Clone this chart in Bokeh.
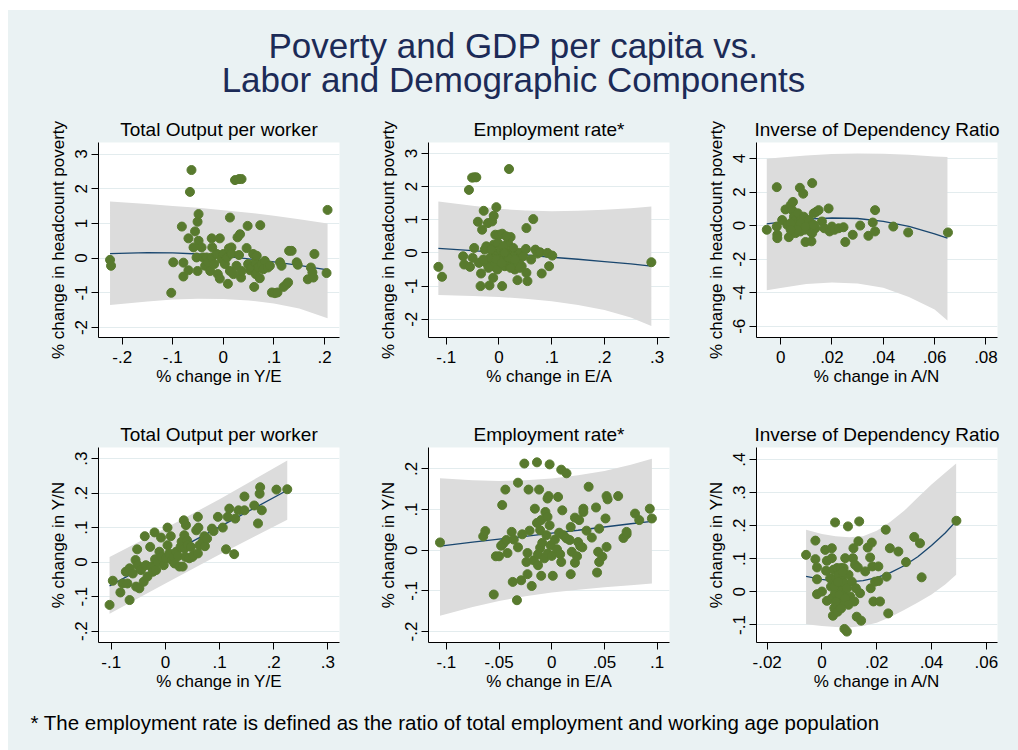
from bokeh.plotting import figure
from bokeh.layouts import column, row
from bokeh.models import Range1d, FixedTicker, CustomJSTickFormatter, Spacer
from bokeh.core.properties import value
from bokeh.embed import file_html
from bokeh.resources import INLINE

FONT = "Liberation Sans"
BG = "#EAF2F3"
GREEN = "#587A2E"
NAVY = "#1A476F"
BAND = "#DCDCDC"

title_lines = ["Poverty and GDP per capita vs.", "Labor and Demographic Components"]
footnote = "* The employment rate is defined as the ratio of total employment and working age population"

panel_titles = ["Total Output per worker", "Employment rate*", "Inverse of Dependency Ratio"]
x_labels = ["% change in Y/E", "% change in E/A", "% change in A/N"]
y_labels_top = "% change in headcount poverty"
y_labels_bottom = "% change in Y/N"

# ---------- Panel 1: poverty vs Y/E ----------
p1_pts = [(-0.224,-0.05),(-0.222,-0.22),(-0.099,-0.12),(-0.103,-1.0),(-0.082,0.91),(-0.079,-0.13),(-0.079,-0.53),(-0.069,-0.35),(-0.069,0.57),(-0.066,1.91),
          (-0.063,2.54),(-0.059,0.31),(-0.056,0.77),(-0.051,1.05),(-0.049,1.27),(-0.049,0.5),(-0.053,0.02),(-0.051,-0.37),(-0.043,0.31),(-0.040,0.02),
          (-0.036,-0.22),(-0.033,0.02),(-0.030,-0.12),(-0.026,-0.37),(-0.023,0.57),(-0.022,0.31),(-0.023,0.02),(-0.018,-0.17),(-0.013,0.12),(-0.011,-0.46),
          (-0.007,0.57),(-0.007,-0.59),(-0.003,-0.03),(0.0,0.12),(0.003,-0.17),(0.007,0.02),(0.009,-0.74),(0.013,1.17),(0.011,0.28),(0.016,0.31),
          (0.013,-0.37),(0.016,0.13),(0.020,-0.46),(0.023,2.25),(0.031,2.28),(0.036,2.28),(0.028,0.6),(0.033,0.69),(0.026,-0.22),(0.031,0.09),
          (0.035,-0.56),(0.036,-0.37),(0.046,0.29),(0.048,0.93),(0.049,-0.17),(0.053,-0.35),(0.056,-0.27),(0.059,0.12),(0.061,-0.83),(0.063,-0.12),
          (0.064,-0.46),(0.066,0.07),(0.069,-0.27),(0.072,-0.58),(0.073,0.95),(0.076,-0.17),(0.079,-0.32),(0.082,-0.08),(0.088,-0.27),(0.092,-0.22),
          (0.096,-0.99),(0.102,-1.01),(0.107,-0.99),(0.112,-0.12),(0.115,-0.22),(0.119,-0.83),(0.125,-0.75),(0.128,-0.70),(0.130,0.21),(0.135,0.21),
          (0.145,-0.12),(0.147,-0.19),(0.167,-0.61),(0.173,-0.27),(0.176,-0.41),(0.178,-0.56),(0.180,0.12),(0.204,-0.43),(0.206,1.39)]
p1_fx = [-0.224, -0.15, -0.1, -0.05, 0.0, 0.05, 0.1, 0.15, 0.206]
p1_fit = [0.13, 0.16, 0.15, 0.12, 0.06, -0.02, -0.11, -0.21, -0.34]
p1_hi = [1.63, 1.56, 1.50, 1.45, 1.38, 1.31, 1.22, 1.12, 1.0]
p1_lo = [-1.35, -1.25, -1.19, -1.17, -1.18, -1.22, -1.31, -1.45, -1.73]
p1_xticks = [-0.2, -0.1, 0, 0.1, 0.2]
p1_yticks = [-2, -1, 0, 1, 2, 3]

# ---------- Panel 2: poverty vs E/A ----------
p2_pts = [(-0.115,-0.42),(-0.108,-0.72),(-0.068,-0.10),(-0.066,-0.35),(-0.057,1.90),(-0.055,-0.42),(-0.051,2.27),(-0.047,2.28),(-0.043,2.28),(-0.050,-0.15),
          (-0.047,0.15),(-0.040,0.94),(-0.038,-0.30),(-0.034,-0.62),(-0.035,-1.0),(-0.032,0.70),(-0.029,1.27),(-0.027,0.10),(-0.024,0.20),(-0.024,-0.30),
          (-0.021,0.90),(-0.018,-0.98),(-0.017,-0.15),(-0.013,0.95),(-0.010,1.12),(-0.011,-0.75),(-0.010,-0.40),(-0.010,0.25),(-0.007,0.55),(-0.005,1.38),
          (-0.005,-0.02),(-0.003,-0.50),(-0.002,0.30),(0.0,0.55),(0.001,-0.25),(0.003,0.10),(0.006,-1.0),(0.006,0.58),(0.008,-0.10),(0.011,-0.40),
          (0.012,0.05),(0.014,-0.25),(0.017,0.30),(0.019,2.53),(0.020,-0.05),(0.022,0.48),(0.024,-0.35),(0.025,-0.20),(0.027,0.15),(0.030,-0.50),
          (0.033,-0.08),(0.035,-0.82),(0.038,-0.30),(0.039,0.0),(0.043,-0.40),(0.046,-0.10),(0.051,0.12),(0.052,0.75),(0.052,-0.60),(0.054,-0.85),
          (0.061,-0.20),(0.065,1.02),(0.069,0.10),(0.073,-0.02),(0.078,0.02),(0.081,-0.62),(0.092,0.0),(0.095,-0.40),(0.101,-0.08),(0.289,-0.28),
          (-0.015,0.10),(0.008,0.20),(0.014,0.50),(0.033,-0.30),(-0.005,-0.20),(0.027,-0.10),(0.005,-0.30),(0.018,-0.15),(0.030,-0.20),(-0.020,-0.45),
          (0.040,-0.45),(0.010,0.0),(-0.030,-0.20),(0.022,-0.45)]
p2_fx = [-0.115, -0.05, 0.0, 0.05, 0.1, 0.15, 0.2, 0.25, 0.289]
p2_fit = [0.14, 0.07, 0.01, -0.06, -0.13, -0.19, -0.26, -0.33, -0.40]
p2_hi = [1.55, 1.42, 1.33, 1.28, 1.26, 1.27, 1.30, 1.35, 1.40]
p2_lo = [-1.27, -1.30, -1.33, -1.38, -1.46, -1.57, -1.72, -1.95, -2.20]
p2_xticks = [-0.1, 0, 0.1, 0.2, 0.3]
p2_yticks = [-2, -1, 0, 1, 2, 3]

# ---------- Panel 3: poverty vs A/N ----------
p3_pts = [(-0.0054,-0.25),(-0.0015,2.29),(-0.0015,-0.06),(-0.0013,-0.55),(-0.0013,-0.75),(0.0006,0.33),(0.0019,0.96),(0.0026,0.04),(0.0032,-0.69),(0.0039,1.22),
          (0.0045,0.92),(0.0048,1.41),(0.0052,0.53),(0.0052,-0.16),(0.0058,0.33),(0.0058,-0.45),(0.0065,0.14),(0.0067,0.73),(0.0071,-0.06),(0.0075,2.25),
          (0.0077,-0.35),(0.0080,0.33),(0.0084,0.04),(0.0088,1.90),(0.0090,0.53),(0.0093,-0.25),(0.0097,-0.98),(0.0101,0.18),(0.0103,-0.06),(0.0110,0.33),
          (0.0116,-0.35),(0.0120,-0.94),(0.0123,2.53),(0.0123,0.04),(0.0129,0.73),(0.0135,-0.16),(0.0139,0.82),(0.0148,0.92),(0.0161,0.24),(0.0170,-0.16),
          (0.0187,1.02),(0.0191,-0.35),(0.0200,-0.06),(0.0210,-0.25),(0.0226,-0.16),(0.0245,-0.10),(0.0252,-0.98),(0.0281,-0.55),(0.0310,0.0),(0.0342,-0.61),
          (0.0359,0.18),(0.0368,0.92),(0.0368,-0.35),(0.0439,-0.06),(0.0497,-0.41),(0.0652,-0.41),(0.0039,0.14),(0.0077,0.14),(0.0065,-0.25),(0.0039,-0.25),
          (0.0097,-0.06),(0.0123,-0.45),(0.0129,0.04)]
p3_fx = [-0.0054, 0.0, 0.01, 0.02, 0.03, 0.04, 0.05, 0.06, 0.065]
p3_fit = [0.10, 0.20, 0.38, 0.45, 0.42, 0.25, -0.05, -0.50, -0.75]
p3_hi = [3.98, 4.05, 4.18, 4.27, 4.30, 4.28, 4.22, 4.12, 4.08]
p3_lo = [-3.85, -3.72, -3.48, -3.40, -3.45, -3.70, -4.25, -5.00, -5.65]
p3_xticks = [0, 0.02, 0.04, 0.06, 0.08]
p3_yticks = [-6, -4, -2, 0, 2, 4]

# ---------- Panel 4: Y/N vs Y/E ----------
p4_pts = [(-0.103,-0.124),(-0.097,-0.054),(-0.083,-0.088),(-0.079,-0.062),(-0.073,-0.028),(-0.070,-0.062),(-0.066,-0.110),(-0.066,-0.018),(-0.060,-0.033),(-0.055,0.006),
          (-0.054,-0.071),(-0.052,0.037),(-0.051,-0.009),(-0.048,-0.076),(-0.045,-0.023),(-0.040,-0.057),(-0.038,0.075),(-0.036,-0.009),(-0.033,-0.042),(-0.028,0.044),
          (-0.026,-0.013),(-0.023,-0.028),(-0.020,0.086),(-0.019,0.008),(-0.017,-0.023),(-0.014,0.001),(-0.011,0.030),(-0.008,0.071),(-0.007,0.015),(-0.003,-0.009),
          (0.001,0.011),(0.004,0.100),(0.004,0.049),(0.007,0.025),(0.010,0.075),(0.012,0.006),(0.015,0.015),(0.017,-0.004),(0.020,0.030),(0.023,0.017),
          (0.026,-0.013),(0.028,0.044),(0.030,0.059),(0.032,-0.013),(0.034,0.121),(0.035,0.078),(0.035,0.039),(0.037,0.015),(0.038,0.107),(0.040,0.063),
          (0.041,0.049),(0.044,0.011),(0.047,0.044),(0.050,0.015),(0.052,0.020),(0.057,0.092),(0.060,0.131),(0.061,0.100),(0.060,0.025),(0.063,0.049),
          (0.069,0.059),(0.072,0.075),(0.073,0.046),(0.077,0.068),(0.086,0.097),(0.089,0.090),(0.097,0.131),(0.106,0.100),(0.112,0.037),(0.115,0.131),
          (0.118,0.155),(0.127,0.023),(0.129,0.126),(0.135,0.150),(0.146,0.190),(0.146,0.150),(0.164,0.164),(0.171,0.112),(0.174,0.198),(0.175,0.217),
          (0.178,0.150),(0.205,0.210),(0.225,0.211)]
p4_fx = [-0.103, 0.0, 0.1, 0.225]
p4_fit = [-0.069, 0.018, 0.102, 0.208]
p4_hi = [0.015, 0.098, 0.182, 0.294]
p4_lo = [-0.150, -0.062, 0.022, 0.123]
p4_xticks = [-0.1, 0, 0.1, 0.2, 0.3]
p4_yticks = [-0.2, -0.1, 0, 0.1, 0.2, 0.3]

# ---------- Panel 5: Y/N vs E/A ----------
p5_pts = [(-0.106,0.019),(-0.065,0.034),(-0.063,0.047),(-0.055,-0.109),(-0.053,-0.015),(-0.050,-0.015),(-0.048,0.011),(-0.047,0.111),(-0.046,0.016),(-0.044,0.149),
          (-0.043,0.025),(-0.042,-0.007),(-0.038,0.045),(-0.037,-0.078),(-0.036,0.026),(-0.033,-0.123),(-0.032,0.166),(-0.032,0.007),(-0.029,-0.074),(-0.028,0.039),
          (-0.026,0.213),(-0.024,-0.029),(-0.023,-0.059),(-0.023,-0.007),(-0.022,0.149),(-0.021,0.048),(-0.019,-0.088),(-0.017,-0.025),(-0.016,0.102),(-0.014,0.216),
          (-0.014,0.067),(-0.013,-0.010),(-0.013,-0.037),(-0.012,0.149),(-0.011,0.049),(-0.011,0.006),(-0.010,0.074),(-0.010,-0.063),(-0.009,0.018),(-0.007,-0.020),
          (-0.006,0.094),(-0.005,0.037),(-0.004,0.082),(-0.004,0.127),(-0.004,-0.008),(-0.003,0.133),(-0.002,0.211),(-0.002,0.061),(-0.001,0.012),(0.0,-0.014),
          (0.001,-0.063),(0.003,0.026),(0.005,0.002),(0.006,0.131),(0.007,0.043),(0.008,-0.010),(0.009,0.198),(0.009,-0.029),(0.010,0.098),(0.011,0.037),
          (0.014,0.189),(0.014,0.029),(0.017,0.025),(0.018,0.057),(0.018,-0.059),(0.019,-0.004),(0.022,0.080),(0.022,-0.031),(0.024,-0.015),(0.025,0.020),
          (0.026,0.074),(0.027,0.010),(0.029,0.007),(0.030,0.102),(0.030,0.094),(0.033,0.048),(0.035,0.156),(0.038,0.031),(0.042,0.105),(0.043,-0.055),
          (0.044,-0.004),(0.045,-0.029),(0.045,0.053),(0.048,-0.016),(0.051,0.078),(0.052,0.133),(0.052,0.008),(0.053,0.125),(0.063,0.133),(0.068,0.030),
          (0.071,0.039),(0.071,0.045),(0.079,0.090),(0.083,0.074),(0.093,0.102),(0.095,0.078)]
p5_fx = [-0.106, -0.075, -0.05, -0.025, 0.0, 0.025, 0.05, 0.075, 0.095]
p5_fit = [0.010, 0.020, 0.027, 0.034, 0.042, 0.049, 0.057, 0.065, 0.071]
p5_hi = [0.177, 0.172, 0.170, 0.172, 0.176, 0.184, 0.195, 0.210, 0.225]
p5_lo = [-0.161, -0.140, -0.125, -0.113, -0.104, -0.097, -0.091, -0.086, -0.082]
p5_xticks = [-0.1, -0.05, 0, 0.05, 0.1]
p5_yticks = [-0.2, -0.1, 0, 0.1, 0.2]

# ---------- Panel 6: Y/N vs A/N ----------
p6_pts = [(-0.0058,0.112),(-0.0024,0.155),(-0.0024,0.099),(-0.0018,0.074),(-0.0018,0.038),(-0.0018,-0.007),(0.0,0.001),(0.0012,0.127),(0.0015,0.064),(0.0018,0.094),
          (0.0018,-0.027),(0.0030,0.041),(0.0033,0.016),(0.0036,0.132),(0.0036,0.102),(0.0036,-0.019),(0.0040,-0.072),(0.0042,0.067),(0.0045,-0.049),(0.0048,0.210),
          (0.0048,-0.004),(0.0052,0.041),(0.0055,0.072),(0.0055,0.021),(0.0057,-0.060),(0.0061,0.052),(0.0061,-0.019),(0.0064,0.011),(0.0067,-0.039),(0.0069,0.072),
          (0.0073,0.036),(0.0076,-0.004),(0.0079,0.072),(0.0081,0.026),(0.0085,0.102),(0.0082,-0.112),(0.0091,-0.120),(0.0091,0.011),(0.0095,0.198),(0.0097,0.052),
          (0.0103,-0.014),(0.0109,0.031),(0.0113,0.102),(0.0115,0.132),(0.0118,-0.029),(0.0121,0.082),(0.0124,0.011),(0.0127,-0.075),(0.0131,0.074),(0.0133,0.153),
          (0.0136,0.213),(0.0139,-0.004),(0.0143,-0.087),(0.0158,0.062),(0.0167,0.134),(0.0176,0.104),(0.0178,0.011),(0.0182,0.149),(0.0184,0.077),(0.0188,-0.029),
          (0.0194,0.031),(0.0206,0.077),(0.0206,0.033),(0.0212,-0.029),(0.0233,0.188),(0.0236,0.046),(0.0242,-0.065),(0.0248,0.132),(0.0279,0.122),(0.0307,0.090),
          (0.0337,0.166),(0.0358,0.147),(0.0364,0.044),(0.0491,0.215),(0.0045,0.016),(0.0064,-0.009),(0.0085,-0.019),(0.0097,-0.039),(0.0058,0.030),(0.0075,0.060),
          (0.0050,-0.030),(0.0070,-0.050)]
p6_fx = [-0.0058, 0.0, 0.005, 0.01, 0.015, 0.02, 0.025, 0.03, 0.035, 0.04, 0.045, 0.049]
p6_fit = [0.047, 0.038, 0.032, 0.030, 0.034, 0.043, 0.058, 0.079, 0.106, 0.140, 0.178, 0.214]
p6_hi = [0.188, 0.175, 0.168, 0.165, 0.168, 0.185, 0.212, 0.245, 0.285, 0.325, 0.360, 0.388]
p6_lo = [-0.098, -0.103, -0.106, -0.108, -0.103, -0.093, -0.076, -0.055, -0.032, -0.008, 0.022, 0.052]
p6_xticks = [-0.02, 0, 0.02, 0.04, 0.06]
p6_yticks = [-0.1, 0, 0.1, 0.2, 0.3, 0.4]

FMT = CustomJSTickFormatter(code="""
    let s = (Math.round(tick*1000)/1000).toString();
    return s.replace('0.', '.');
""")


def panel(title, xlab, ylab, xr, yr, xt, yt, pts, fx, fit, hi, lo, w, h, bl, br, bt, bb):
    p = figure(width=w, height=h, x_range=Range1d(*xr), y_range=Range1d(*yr),
               output_backend="svg", toolbar_location=None, title=title,
               min_border_left=bl, min_border_right=br, min_border_top=bt, min_border_bottom=bb)
    p.border_fill_color = BG
    p.background_fill_color = "white"
    p.outline_line_color = None
    p.title.align = "center"
    p.title.text_font = FONT
    p.title.text_font_size = "19px"
    p.title.text_font_style = "normal"
    p.title.text_color = "black"
    p.title.standoff = 5
    for ax, ticks in ((p.xaxis[0], xt), (p.yaxis[0], yt)):
        ax.ticker = FixedTicker(ticks=ticks)
        ax.formatter = FMT
        ax.major_tick_out = 7
        ax.major_tick_in = 0
        ax.minor_tick_line_color = None
        ax.axis_line_color = "black"
        ax.major_tick_line_color = "black"
        ax.major_label_text_font = FONT
        ax.major_label_text_font_size = "17px"
        ax.major_label_text_color = "black"
        ax.axis_label_text_font = FONT
        ax.axis_label_text_font_size = "17px"
        ax.axis_label_text_font_style = "normal"
        ax.axis_label_text_color = "black"
    p.xaxis.axis_label = xlab
    p.yaxis.axis_label = ylab
    p.yaxis.major_label_orientation = "vertical"
    p.xaxis.major_label_standoff = 6
    p.xaxis.axis_label_standoff = 1
    p.yaxis.major_label_standoff = 4
    p.yaxis.axis_label_standoff = 5
    p.xgrid.visible = False
    p.ygrid.grid_line_color = "#E3ECEE"
    p.ygrid.grid_line_width = 1
    px = [a for a, b in pts]
    py = [b for a, b in pts]
    p.varea(x=fx, y1=lo, y2=hi, fill_color=BAND, fill_alpha=1.0)
    p.line(fx, fit, line_color=NAVY, line_width=1.3)
    p.scatter(px, py, size=9, fill_color=GREEN, line_color=GREEN)
    return p


TOP_H, BOT_H = 300, 305
W1, W2, W3 = 332, 335, 343

p1 = panel(panel_titles[0], x_labels[0], y_labels_top, (-0.2468, 0.2296), (-2.288, 3.334),
           p1_xticks, p1_yticks, p1_pts, p1_fx, p1_fit, p1_hi, p1_lo, W1, TOP_H, 90, 1, 42, 63)
p2 = panel(panel_titles[1], x_labels[1], y_labels_top, (-0.1337, 0.3234), (-2.55, 3.33),
           p2_xticks, p2_yticks, p2_pts, p2_fx, p2_fit, p2_hi, p2_lo, W2, TOP_H, 88, 6, 42, 63)
p3 = panel(panel_titles[2], x_labels[2], y_labels_top, (-0.0094, 0.0845), (-6.67, 4.95),
           p3_xticks, p3_yticks, p3_pts, p3_fx, p3_fit, p3_hi, p3_lo, W3, TOP_H, 81, 21, 42, 63)
p4 = panel(panel_titles[0], x_labels[0], y_labels_bottom, (-0.1234, 0.3214), (-0.233, 0.332),
           p4_xticks, p4_yticks, p4_pts, p4_fx, p4_fit, p4_hi, p4_lo, W1, BOT_H, 90, 1, 47, 63)
p5 = panel(panel_titles[1], x_labels[1], y_labels_bottom, (-0.1169, 0.1117), (-0.227, 0.2525),
           p5_xticks, p5_yticks, p5_pts, p5_fx, p5_fit, p5_hi, p5_lo, W2, BOT_H, 88, 6, 47, 63)
p6 = panel(panel_titles[2], x_labels[2], y_labels_bottom, (-0.0239, 0.0641), (-0.153, 0.4365),
           p6_xticks, p6_yticks, p6_pts, p6_fx, p6_fit, p6_hi, p6_lo, W3, BOT_H, 81, 21, 47, 63)

TOTAL_W = W1 + W2 + W3


def text_box(h):
    f = figure(width=TOTAL_W, height=h, x_range=Range1d(0, TOTAL_W), y_range=Range1d(0, h),
               x_axis_type=None, y_axis_type=None, output_backend="svg", toolbar_location=None,
               min_border=0)
    f.border_fill_color = BG
    f.background_fill_color = BG
    f.outline_line_color = None
    f.xgrid.visible = False
    f.ygrid.visible = False
    return f


header = text_box(90)
header.text(x=[TOTAL_W / 2, TOTAL_W / 2], y=[55, 21], text=title_lines,
            text_align="center", text_baseline="middle", text_font=value(FONT),
            text_font_size="35px", text_color="#1C2B57")

footer = text_box(45)
footer.text(x=[22], y=[28], text=[footnote], text_align="left", text_baseline="middle",
            text_font=value(FONT), text_font_size="20.5px", text_color="black")

bgstyle = {"background-color": BG}
content = column(header,
                 row(p1, p2, p3, styles=bgstyle),
                 row(p4, p5, p6, styles=bgstyle),
                 footer, styles=bgstyle)
layout = column(Spacer(height=10, width=TOTAL_W + 8),
                row(Spacer(width=8, height=740), content))

open("out.html", "w").write(file_html(layout, INLINE))
